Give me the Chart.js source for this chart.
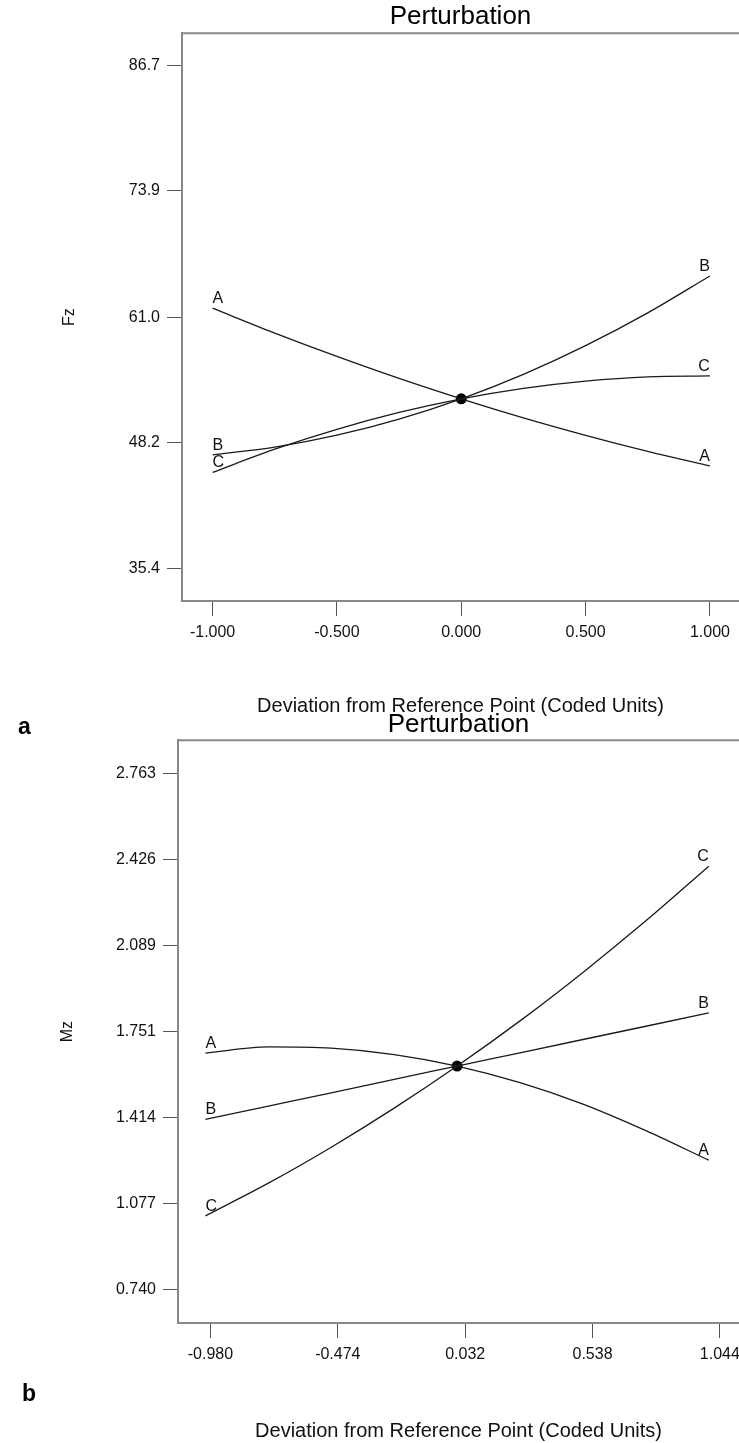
<!DOCTYPE html>
<html>
<head>
<meta charset="utf-8">
<script src="https://cdn.jsdelivr.net/npm/chart.js@4.4.1/dist/chart.umd.min.js"></script>
<style>
  body { margin: 0; background: #fff; }
  #wrap { position: relative; width: 739px; height: 1443px; overflow: hidden; }
  canvas { position: absolute; left: 0; }
  #chartA { top: 0; }
  #chartB { top: 700px; }
  .panel { position: absolute; font: bold 23px "Liberation Sans", Arial, sans-serif; line-height: 23px; color: #000; }
</style>
</head>
<body>
<div id="wrap">
  <canvas id="chartA" width="739" height="720"></canvas>
  <canvas id="chartB" width="739" height="743"></canvas>
  <div class="panel" style="left:18px;top:715px">a</div>
  <div class="panel" style="left:22px;top:1382px">b</div>
</div>
<script>
const FONT = '"Liberation Sans", Arial, sans-serif';

// coded deviation where curves were read
const xCoded = [-1, -0.75, -0.5, -0.25, 0, 0.25, 0.5, 0.75, 1];
const factors = ['A', 'B', 'C'];

// panel a: Fz
const fzA = [61.93, 59.40, 57.02, 54.78, 52.70, 50.76, 48.98, 47.34, 45.85];
const fzB = [46.98, 47.77, 48.99, 50.63, 52.70, 55.19, 58.11, 61.45, 65.22];
const fzC = [45.20, 47.56, 49.59, 51.31, 52.70, 53.77, 54.51, 54.94, 55.03];
const fzRef = 52.70;
const fzYTicks = [35.4, 48.2, 61.0, 73.9, 86.7];
const fzYTickLabels = ['35.4', '48.2', '61.0', '73.9', '86.7'];
const fzXTicks = [-1, -0.5, 0, 0.5, 1];
const fzXTickLabels = ['-1.000', '-0.500', '0.000', '0.500', '1.000'];

// panel b: Mz
const mzA = [1.668, 1.692, 1.687, 1.662, 1.617, 1.552, 1.468, 1.364, 1.248];
const mzB = [1.408, 1.460, 1.512, 1.565, 1.617, 1.669, 1.721, 1.773, 1.825];
const mzC = [1.030, 1.158, 1.299, 1.452, 1.617, 1.794, 1.984, 2.186, 2.400];
const mzRef = 1.617;
const mzYTicks = [0.740, 1.077, 1.414, 1.751, 2.089, 2.426, 2.763];
const mzYTickLabels = ['0.740', '1.077', '1.414', '1.751', '2.089', '2.426', '2.763'];
const mzXTicks = [-0.980, -0.474, 0.032, 0.538, 1.044];
const mzXTickLabels = ['-0.980', '-0.474', '0.032', '0.538', '1.044'];

// writes A/B/C at both ends of each curve
const endLabels = {
  id: 'endLabels',
  afterDatasetsDraw(chart) {
    const ctx = chart.ctx;
    ctx.save();
    ctx.font = '16px ' + FONT;
    ctx.fillStyle = '#111';
    ctx.textBaseline = 'alphabetic';
    chart.data.datasets.forEach((ds, i) => {
      if (!ds.endLabel) return;
      const pts = chart.getDatasetMeta(i).data;
      const first = pts[0], last = pts[pts.length - 1];
      ctx.textAlign = 'left';
      ctx.fillText(ds.endLabel, first.x, first.y - 5);
      ctx.textAlign = 'right';
      ctx.fillText(ds.endLabel, last.x, last.y - 5);
    });
    ctx.restore();
  }
};

const topBorder = {
  id: 'topBorder',
  afterDraw(chart) {
    const { ctx, chartArea } = chart;
    ctx.save();
    ctx.strokeStyle = '#888';
    ctx.lineWidth = 2;
    ctx.beginPath();
    ctx.moveTo(chartArea.left - 1, chartArea.top);
    ctx.lineTo(chartArea.right, chartArea.top);
    ctx.stroke();
    ctx.restore();
  }
};

function makeChart(id, opts) {
  const series = [opts.a, opts.b, opts.c];
  const datasets = series.map((vals, k) => ({
    type: 'line',
    endLabel: factors[k],
    data: xCoded.map((x, i) => ({ x: x, y: vals[i] })),
    borderColor: '#1a1a1a',
    borderWidth: 1.3,
    pointRadius: 0,
    cubicInterpolationMode: 'monotone',
    fill: false
  }));
  datasets.push({
    type: 'scatter',
    data: [{ x: 0, y: opts.ref }],
    pointRadius: 5.5,
    backgroundColor: '#000',
    borderWidth: 0
  });

  return new Chart(document.getElementById(id), {
    type: 'line',
    data: { datasets: datasets },
    options: {
      responsive: false,
      animation: false,
      layout: { padding: 0, autoPadding: false },
      plugins: {
        legend: { display: false },
        tooltip: { enabled: false },
        title: {
          display: true,
          fullSize: false,
          text: 'Perturbation',
          color: '#000',
          font: { family: FONT, size: 26, weight: 'normal' },
          padding: opts.titlePad
        }
      },
      scales: {
        x: {
          type: 'linear',
          min: opts.xMin,
          max: opts.xMax,
          afterBuildTicks: s => { s.ticks = opts.xTicks.map(v => ({ value: v })); },
          afterFit: s => { s.height = opts.xHeight; s.paddingLeft = 0; s.paddingRight = 0; },
          ticks: {
            callback: (v, i) => opts.xLabels[i],
            color: '#111',
            font: { family: FONT, size: 16 },
            padding: 7,
            maxRotation: 0,
            autoSkip: false
          },
          grid: { drawOnChartArea: false, tickLength: 15, color: '#555', lineWidth: 1 },
          border: { color: '#888', width: 2 },
          title: {
            display: true,
            text: 'Deviation from Reference Point (Coded Units)',
            color: '#111',
            font: { family: FONT, size: 20 },
            padding: { top: 0, bottom: opts.xTitlePad }
          }
        },
        y: {
          type: 'linear',
          min: opts.yMin,
          max: opts.yMax,
          afterBuildTicks: s => { s.ticks = opts.yTicks.map(v => ({ value: v })); },
          afterFit: s => { s.width = opts.yWidth; s.paddingTop = 0; s.paddingBottom = 0; },
          ticks: {
            callback: (v, i) => opts.yLabels[i],
            color: '#111',
            font: { family: FONT, size: 16 },
            padding: 7,
            autoSkip: false
          },
          grid: { drawOnChartArea: false, tickLength: 15, color: '#555', lineWidth: 1 },
          border: { color: '#888', width: 2 },
          title: {
            display: true,
            text: opts.yTitle,
            color: '#111',
            font: { family: FONT, size: 16 },
            padding: { top: opts.yTitlePad, bottom: 0 }
          }
        }
      }
    },
    plugins: [endLabels, topBorder]
  });
}

makeChart('chartA', {
  a: fzA, b: fzB, c: fzC, ref: fzRef,
  xMin: -1.123, xMax: 1.117, yMin: 32.09, yMax: 89.96,
  xTicks: fzXTicks, xLabels: fzXTickLabels,
  yTicks: fzYTicks, yLabels: fzYTickLabels,
  yTitle: 'Fz', yTitlePad: 60, yWidth: 182,
  xHeight: 119, xTitlePad: 2,
  titlePad: { top: 1, bottom: 1 }
});

makeChart('chartB', {
  a: mzA, b: mzB, c: mzC, ref: mzRef,
  xMin: -1.109, xMax: 1.120, yMin: 0.610, yMax: 2.894,
  xTicks: mzXTicks, xLabels: mzXTickLabels,
  yTicks: mzYTicks, yLabels: mzYTickLabels,
  yTitle: 'Mz', yTitlePad: 58, yWidth: 178,
  xHeight: 120, xTitlePad: 0,
  titlePad: { top: 9, bottom: 0 }
});
</script>
</body>
</html>
